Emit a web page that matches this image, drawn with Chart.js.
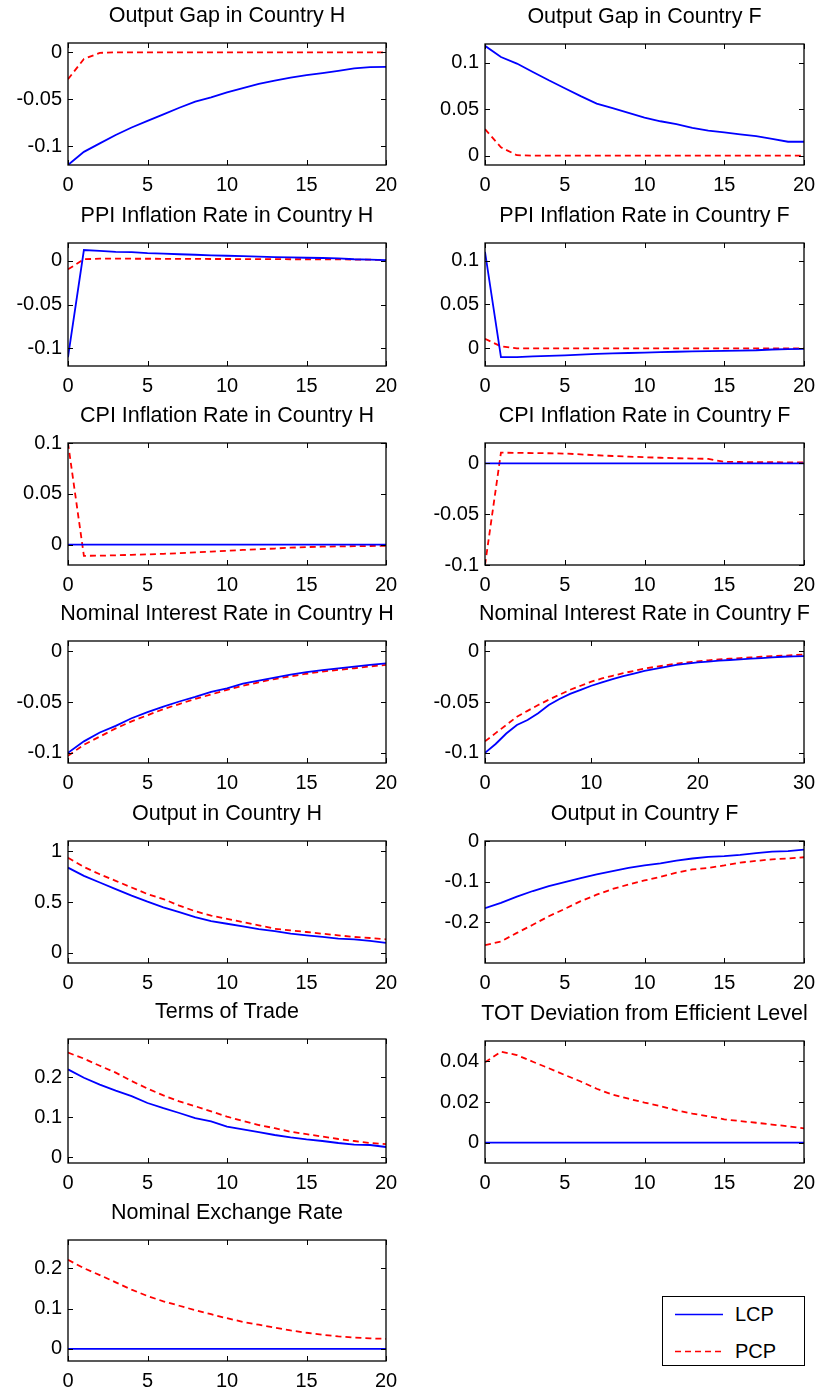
<!DOCTYPE html>
<html><head><meta charset="utf-8">
<script src="https://cdn.jsdelivr.net/npm/chart.js@4.4.1/dist/chart.umd.min.js"></script>
<style>
html,body{margin:0;padding:0;background:#fff;}
body{width:817px;height:1394px;overflow:hidden;position:relative;}
canvas{position:absolute;}
#legend{position:absolute;left:662px;top:1296px;width:141px;height:68px;border:1px solid #000;background:#fff;font-family:"Liberation Sans",Arial,sans-serif;font-size:20px;color:#000;}
#legend .row{position:absolute;left:0;height:24px;line-height:24px;}
#legend svg{position:absolute;left:12px;top:0;}
#legend span{position:absolute;left:72px;top:0;white-space:nowrap;}
</style></head><body>
<div id="legend"></div>
<script>
// ---------- data ----------
const periods = [0,1,2,3,4,5,6,7,8,9,10,11,12,13,14,15,16,17,18,19,20];
const periodsLong = [0,1,2,3,4,5,6,7,8,9,10,11,12,13,14,15,16,17,18,19,20,21,22,23,24,25,26,27,28,29,30];
const seriesNames = ['LCP','PCP'];
const panelTitles = ['Output Gap in Country H','Output Gap in Country F','PPI Inflation Rate in Country H','PPI Inflation Rate in Country F','CPI Inflation Rate in Country H','CPI Inflation Rate in Country F','Nominal Interest Rate in Country H','Nominal Interest Rate in Country F','Output in Country H','Output in Country F','Terms of Trade','TOT Deviation from Efficient Level','Nominal Exchange Rate'];

const outputGapH_LCP = [-0.120,-0.106,-0.097,-0.088,-0.080,-0.073,-0.066,-0.059,-0.0525,-0.048,-0.0425,-0.038,-0.0336,-0.030,-0.0268,-0.0243,-0.022,-0.0196,-0.0171,-0.0157,-0.0155];
const outputGapH_PCP = [-0.0286,-0.007,-0.0005,0,0,0,0,0,0,0,0,0,0,0,0,0,0,0,0,0,0];
const outputGapF_LCP = [0.118,0.106,0.099,0.090,0.081,0.0725,0.064,0.056,0.051,0.046,0.041,0.037,0.034,0.030,0.027,0.025,0.023,0.021,0.018,0.015,0.015];
const outputGapF_PCP = [0.0286,0.009,0.0005,0,0,0,0,0,0,0,0,0,0,0,0,0,0,0,0,0,0];
const ppiH_LCP = [-0.11,0.012,0.011,0.010,0.0095,0.0085,0.008,0.0072,0.0066,0.006,0.0055,0.005,0.0045,0.004,0.0036,0.0032,0.0029,0.0026,0.0015,0.001,0.0005];
const ppiH_PCP = [-0.010,0.0015,0.0022,0.0022,0.0021,0.0021,0.002,0.002,0.0019,0.0018,0.0018,0.0017,0.0016,0.0016,0.0015,0.0015,0.0014,0.0014,0.0012,0.001,0.0006];
const ppiF_LCP = [0.11,-0.010,-0.0098,-0.009,-0.0085,-0.0078,-0.007,-0.0063,-0.0057,-0.0052,-0.0047,-0.0042,-0.0038,-0.0034,-0.003,-0.0027,-0.0024,-0.0021,-0.0012,-0.0008,-0.0004];
const ppiF_PCP = [0.011,0.0023,0,0,0,0,0,0,0,0,0,0,0,0,0,0,0,0,0,0,0];
const cpiH_LCP = [0,0,0,0,0,0,0,0,0,0,0,0,0,0,0,0,0,0,0,0,0];
const cpiH_PCP = [0.1,-0.011,-0.0108,-0.0105,-0.0100,-0.0096,-0.0090,-0.0084,-0.0076,-0.0068,-0.006,-0.0052,-0.0045,-0.0038,-0.0030,-0.0024,-0.0020,-0.0017,-0.0015,-0.0013,-0.0012];
const cpiF_LCP = [0,0,0,0,0,0,0,0,0,0,0,0,0,0,0,0,0,0,0,0,0];
const cpiF_PCP = [-0.1,0.0105,0.0103,0.0101,0.0099,0.0096,0.0088,0.008,0.0072,0.0066,0.006,0.0055,0.005,0.0047,0.0044,0.0014,0.0013,0.0012,0.0011,0.001,0.001];
const nomRateH_LCP = [-0.1,-0.0887,-0.080,-0.0735,-0.066,-0.060,-0.0545,-0.0495,-0.045,-0.040,-0.0365,-0.032,-0.029,-0.026,-0.023,-0.0206,-0.0187,-0.017,-0.0152,-0.0135,-0.012];
const nomRateH_PCP = [-0.103,-0.092,-0.084,-0.076,-0.069,-0.063,-0.057,-0.052,-0.047,-0.0426,-0.038,-0.034,-0.0306,-0.0274,-0.0248,-0.0222,-0.020,-0.0184,-0.0168,-0.015,-0.0135];
const nomRateF_LCP = [-0.1,-0.0913,-0.081,-0.0726,-0.0677,-0.061,-0.053,-0.047,-0.042,-0.038,-0.034,-0.0306,-0.0274,-0.0245,-0.022,-0.0194,-0.0174,-0.0155,-0.0135,-0.0123,-0.011,-0.0103,-0.0094,-0.0087,-0.008,-0.0074,-0.0068,-0.0061,-0.0055,-0.0052,-0.0048];
const nomRateF_PCP = [-0.0887,-0.0806,-0.0726,-0.0645,-0.0587,-0.053,-0.0477,-0.0429,-0.038,-0.034,-0.030,-0.0268,-0.0242,-0.0216,-0.0194,-0.0171,-0.0155,-0.0139,-0.0123,-0.011,-0.010,-0.009,-0.008,-0.0074,-0.0068,-0.0061,-0.0055,-0.0048,-0.0045,-0.0039,-0.0032];
const outputH_LCP = [0.838,0.757,0.692,0.627,0.562,0.503,0.448,0.40,0.351,0.312,0.286,0.26,0.234,0.214,0.188,0.172,0.156,0.14,0.133,0.117,0.097];
const outputH_PCP = [0.935,0.844,0.773,0.708,0.643,0.578,0.529,0.464,0.409,0.367,0.334,0.302,0.27,0.237,0.221,0.205,0.188,0.172,0.156,0.146,0.133];
const outputF_LCP = [-0.165,-0.152,-0.137,-0.123,-0.111,-0.101,-0.091,-0.082,-0.074,-0.066,-0.060,-0.055,-0.048,-0.043,-0.039,-0.037,-0.034,-0.030,-0.026,-0.025,-0.021];
const outputF_PCP = [-0.256,-0.247,-0.226,-0.206,-0.185,-0.167,-0.148,-0.132,-0.118,-0.107,-0.097,-0.088,-0.078,-0.070,-0.066,-0.060,-0.053,-0.049,-0.045,-0.043,-0.040];
const tot_LCP = [0.219,0.198,0.181,0.166,0.152,0.135,0.122,0.11,0.097,0.089,0.076,0.069,0.062,0.055,0.049,0.044,0.040,0.035,0.031,0.030,0.025];
const tot_PCP = [0.261,0.246,0.228,0.211,0.19,0.171,0.154,0.139,0.127,0.114,0.101,0.09,0.08,0.072,0.063,0.057,0.051,0.045,0.040,0.035,0.032];
const totDev_LCP = [0,0,0,0,0,0,0,0,0,0,0,0,0,0,0,0,0,0,0,0,0];
const totDev_PCP = [0.0395,0.0447,0.0431,0.0398,0.0366,0.0333,0.0301,0.0265,0.0236,0.0216,0.0197,0.018,0.0159,0.0143,0.013,0.0115,0.0106,0.0098,0.0089,0.0081,0.007];
const ner_LCP = [0,0,0,0,0,0,0,0,0,0,0,0,0,0,0,0,0,0,0,0,0];
const ner_PCP = [0.221,0.200,0.183,0.165,0.147,0.131,0.118,0.107,0.096,0.086,0.076,0.067,0.060,0.053,0.046,0.040,0.035,0.031,0.028,0.026,0.025];

const yTicksOGH = [-0.1,-0.05,0];
const yTicksOGF = [0,0.05,0.1];
const yTicksY_H = [0,0.5,1];
const yTicksY_F = [-0.2,-0.1,0];
const yTicksTOT = [0,0.1,0.2];
const yTicksDev = [0,0.02,0.04];
const xTicks20 = [0,5,10,15,20];
const xTicks30 = [0,10,20,30];

// ---------- layout ----------
const FONT = '"Liberation Sans", Arial, Helvetica, sans-serif';
const M = 70, TITLE_H = 42, XAXIS_H = 35;
const LX = [68, 386], RX = [485, 804];

const panels = [
  {t:0, x:periods, lcp:outputGapH_LCP, pcp:outputGapH_PCP, yr:[-0.12,0.01], yt:yTicksOGH, xt:xTicks20, box:[LX[0],43,LX[1],165]},
  {t:1, x:periods, lcp:outputGapF_LCP, pcp:outputGapF_PCP, yr:[-0.01,0.12], yt:yTicksOGF, xt:xTicks20, box:[RX[0],44,RX[1],165]},
  {t:2, x:periods, lcp:ppiH_LCP, pcp:ppiH_PCP, yr:[-0.12,0.02], yt:yTicksOGH, xt:xTicks20, box:[LX[0],243,LX[1],366]},
  {t:3, x:periods, lcp:ppiF_LCP, pcp:ppiF_PCP, yr:[-0.02,0.12], yt:yTicksOGF, xt:xTicks20, box:[RX[0],243,RX[1],366]},
  {t:4, x:periods, lcp:cpiH_LCP, pcp:cpiH_PCP, yr:[-0.02,0.1], yt:yTicksOGF, xt:xTicks20, box:[LX[0],443,LX[1],565]},
  {t:5, x:periods, lcp:cpiF_LCP, pcp:cpiF_PCP, yr:[-0.1,0.02], yt:yTicksOGH, xt:xTicks20, box:[RX[0],443,RX[1],565]},
  {t:6, x:periods, lcp:nomRateH_LCP, pcp:nomRateH_PCP, yr:[-0.11,0.01], yt:yTicksOGH, xt:xTicks20, box:[LX[0],641,LX[1],763]},
  {t:7, x:periodsLong, lcp:nomRateF_LCP, pcp:nomRateF_PCP, yr:[-0.11,0.01], yt:yTicksOGH, xt:xTicks30, box:[RX[0],641,RX[1],763]},
  {t:8, x:periods, lcp:outputH_LCP, pcp:outputH_PCP, yr:[-0.1,1.1], yt:yTicksY_H, xt:xTicks20, box:[LX[0],841,LX[1],963]},
  {t:9, x:periods, lcp:outputF_LCP, pcp:outputF_PCP, yr:[-0.3,0], yt:yTicksY_F, xt:xTicks20, box:[RX[0],841,RX[1],963]},
  {t:10, x:periods, lcp:tot_LCP, pcp:tot_PCP, yr:[-0.015,0.295], yt:yTicksTOT, xt:xTicks20, box:[LX[0],1039,LX[1],1163]},
  {t:11, x:periods, lcp:totDev_LCP, pcp:totDev_PCP, yr:[-0.01,0.05], yt:yTicksDev, xt:xTicks20, box:[RX[0],1041,RX[1],1163]},
  {t:12, x:periods, lcp:ner_LCP, pcp:ner_PCP, yr:[-0.03,0.27], yt:yTicksTOT, xt:xTicks20, box:[LX[0],1240,LX[1],1361]}
];

function fmt(v){
  if (Math.abs(v) < 1e-12) return '0';
  return String(parseFloat(Number(v).toFixed(4)));
}

const boxPlugin = {
  id: 'matlabBox',
  afterDraw(chart){
    const {ctx, chartArea:a, scales} = chart;
    const x = scales.x, y = scales.y;
    ctx.save();
    ctx.strokeStyle = '#000';
    ctx.lineWidth = 1.3;
    ctx.strokeRect(a.left, a.top, a.right - a.left, a.bottom - a.top);
    ctx.lineWidth = 1;
    const TL = 5;
    ctx.beginPath();
    x.ticks.forEach(t => {
      const px = Math.round(x.getPixelForValue(t.value)) + 0.5;
      ctx.moveTo(px, a.bottom); ctx.lineTo(px, a.bottom - TL);
      ctx.moveTo(px, a.top); ctx.lineTo(px, a.top + TL);
    });
    y.ticks.forEach(t => {
      const py = Math.round(y.getPixelForValue(t.value)) + 0.5;
      ctx.moveTo(a.left, py); ctx.lineTo(a.left + TL, py);
      ctx.moveTo(a.right, py); ctx.lineTo(a.right - TL, py);
    });
    ctx.stroke();
    ctx.restore();
  }
};

const charts = [];
panels.forEach(p => {
  const [L,T,R,B] = p.box;
  const w = (R - L) + 2*M, h = TITLE_H + (B - T) + XAXIS_H;
  const c = document.createElement('canvas');
  c.width = w; c.height = h;
  c.style.left = (L - M) + 'px'; c.style.top = (T - TITLE_H) + 'px';
  c.style.width = w + 'px'; c.style.height = h + 'px';
  document.body.appendChild(c);
  const tickFont = {family: FONT, size: 20, lineHeight: 1.2};
  const ch = new Chart(c, {
    type: 'line',
    data: {
      datasets: [
        {label: seriesNames[0], data: p.x.map((t,i)=>({x:t, y:p.lcp[i]})), borderColor:'#0000ff', borderWidth:1.8, pointRadius:0, tension:0, fill:false},
        {label: seriesNames[1], data: p.x.map((t,i)=>({x:t, y:p.pcp[i]})), borderColor:'#ff0000', borderWidth:1.8, borderDash:[6,4], pointRadius:0, tension:0, fill:false}
      ]
    },
    options: {
      responsive: false, animation: false, events: [],
      layout: {padding: 0},
      plugins: {
        legend: {display: false},
        tooltip: {enabled: false},
        title: {display: true, text: panelTitles[p.t], color: '#000',
          font: {family: FONT, size: 21.5, weight: 'normal', lineHeight: 1},
          padding: {top: 4, bottom: 16.5}}
      },
      scales: {
        x: {type: 'linear', min: p.xt[0], max: p.xt[p.xt.length-1],
          afterBuildTicks(s){ s.ticks = p.xt.map(v => ({value: v})); },
          ticks: {color:'#000', font: tickFont, padding: 8, maxRotation: 0, autoSkip: false, callback: v => fmt(v)},
          grid: {display: false, drawTicks: false}, border: {display: false},
          afterFit(s){ s.height = XAXIS_H; }},
        y: {type: 'linear', position: 'left', min: p.yr[0], max: p.yr[1],
          afterBuildTicks(s){ s.ticks = p.yt.map(v => ({value: v})); },
          ticks: {color:'#000', font: tickFont, padding: 6, autoSkip: false, callback: v => fmt(v)},
          grid: {display: false, drawTicks: false}, border: {display: false},
          afterFit(s){ s.width = M; }},
        yR: {type: 'linear', position: 'right', display: true,
          ticks: {display: false}, grid: {display: false, drawTicks: false}, border: {display: false},
          afterFit(s){ s.width = M; }}
      }
    },
    plugins: [boxPlugin]
  });
  charts.push(ch);
});

// legend built from the last chart's datasets
(function(){
  const chart = charts[charts.length - 1];
  const lg = document.getElementById('legend');
  chart.data.datasets.forEach((ds, i) => {
    const row = document.createElement('div');
    row.className = 'row';
    row.style.top = (5 + i * 37) + 'px';
    const dash = ds.borderDash ? ds.borderDash.join(',') : 'none';
    row.innerHTML = '<svg width="48" height="24"><line x1="0" y1="12.5" x2="48" y2="12.5" stroke="' + ds.borderColor + '" stroke-width="1.5" stroke-dasharray="' + dash + '"/></svg><span>' + ds.label + '</span>';
    lg.appendChild(row);
  });
})();
</script>
</body></html>
